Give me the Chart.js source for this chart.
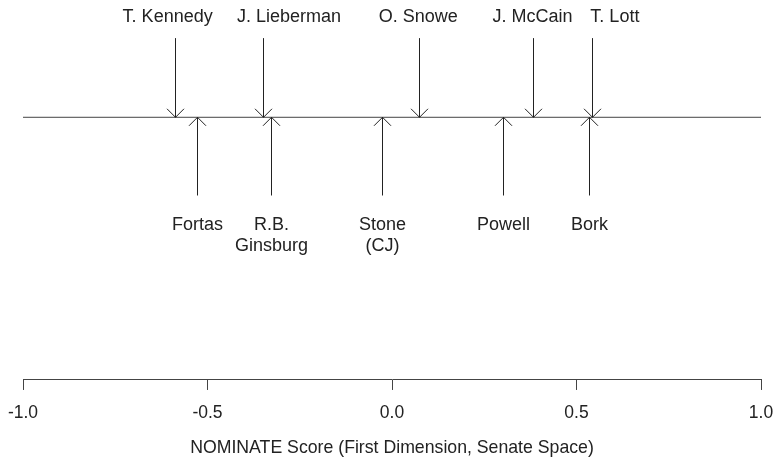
<!DOCTYPE html>
<html>
<head>
<meta charset="utf-8">
<script src="https://cdn.jsdelivr.net/npm/chart.js@4"></script>
<style>
  html, body { margin: 0; padding: 0; background: #fff; }
  #wrap { width: 778px; height: 461px; }
</style>
</head>
<body>
<div id="wrap"><canvas id="chart" width="778" height="461"></canvas></div>
<script>
// Senators (arrows pointing down onto the line)
const senatorNames = ['T. Kennedy', 'J. Lieberman', 'O. Snowe', 'J. McCain', 'T. Lott'];
const senatorScores = [-0.588, -0.350, 0.073, 0.382, 0.542];
// where each senator's label is centred (nudged apart so they don't collide)
const senatorLabelAt = [-0.608, -0.279, 0.071, 0.381, 0.604];

// Justices (arrows pointing up onto the line)
const justiceNames = ['Fortas', 'R.B.\nGinsburg', 'Stone\n(CJ)', 'Powell', 'Bork'];
const justiceScores = [-0.528, -0.328, -0.027, 0.301, 0.534];

// Axis ticks
const tickValues = [-1.0, -0.5, 0.0, 0.5, 1.0];
const axisTitle = 'NOMINATE Score (First Dimension, Senate Space)';

// vertical layout levels, in % of plot height (y scale runs 0..100 top to bottom)
const LINE_Y = 30.87;
const SENATE_TOP = 10.03;
const JUSTICE_BOTTOM = 51.45;

const INK = '#222';
const LINE_COLOR = '#444';
const FONT = '"Liberation Sans", Arial, Helvetica, sans-serif';

// Draw arrows and their labels using the chart scales
const arrowPlugin = {
    id: 'arrows',
    afterDatasetsDraw(chart) {
        const ctx = chart.ctx;
        const xs = chart.scales.x;
        const ys = chart.scales.y;
        const lineY = ys.getPixelForValue(LINE_Y);
        const head = 8.5;

        ctx.save();
        ctx.strokeStyle = INK;
        ctx.lineWidth = 1;
        ctx.fillStyle = INK;
        ctx.font = '18px ' + FONT;
        ctx.textAlign = 'center';
        ctx.textBaseline = 'middle';

        // senators: from top down to the line
        const topY = ys.getPixelForValue(SENATE_TOP);
        senatorScores.forEach((v, i) => {
            const x = Math.round(xs.getPixelForValue(v)) + 0.5;
            ctx.beginPath();
            ctx.moveTo(x, topY);
            ctx.lineTo(x, lineY);
            ctx.moveTo(x - head, lineY - head);
            ctx.lineTo(x, lineY);
            ctx.lineTo(x + head, lineY - head);
            ctx.stroke();
            ctx.fillText(senatorNames[i], xs.getPixelForValue(senatorLabelAt[i]), topY - 21);
        });

        // justices: from below up to the line
        const botY = ys.getPixelForValue(JUSTICE_BOTTOM);
        justiceScores.forEach((v, i) => {
            const x = Math.round(xs.getPixelForValue(v)) + 0.5;
            ctx.beginPath();
            ctx.moveTo(x, botY);
            ctx.lineTo(x, lineY);
            ctx.moveTo(x - head, lineY + head);
            ctx.lineTo(x, lineY);
            ctx.lineTo(x + head, lineY + head);
            ctx.stroke();
            justiceNames[i].split('\n').forEach((line, j) => {
                ctx.fillText(line, x, botY + 29.5 + j * 21);
            });
        });
        ctx.restore();
    }
};

new Chart(document.getElementById('chart'), {
    type: 'line',
    data: {
        datasets: [{
            // the horizontal policy line
            data: [{ x: tickValues[0], y: LINE_Y }, { x: tickValues[tickValues.length - 1], y: LINE_Y }],
            borderColor: LINE_COLOR,
            borderWidth: 1,
            pointRadius: 0,
            fill: false
        }]
    },
    options: {
        responsive: false,
        animation: false,
        events: [],
        layout: {
            padding: { left: 23, right: 17, top: 0, bottom: 2.4 }
        },
        plugins: {
            legend: { display: false },
            tooltip: { enabled: false },
            title: { display: false }
        },
        scales: {
            x: {
                type: 'linear',
                min: tickValues[0],
                max: tickValues[tickValues.length - 1],
                afterBuildTicks: (scale) => {
                    scale.ticks = tickValues.map(v => ({ value: v }));
                },
                afterFit: (scale) => {
                    // keep the plot edges where the layout padding puts them
                    scale.paddingLeft = 0;
                    scale.paddingRight = 0;
                },
                ticks: {
                    callback: (v) => Number(v).toFixed(1),
                    color: INK,
                    font: { family: FONT, size: 17.5 },
                    padding: 13,
                    maxRotation: 0
                },
                grid: {
                    drawOnChartArea: false,
                    drawTicks: true,
                    tickLength: 10,
                    color: LINE_COLOR
                },
                border: { display: true, color: LINE_COLOR, width: 1 },
                title: {
                    display: true,
                    text: axisTitle,
                    color: INK,
                    font: { family: FONT, size: 17.7 },
                    padding: { top: 0.4, bottom: 0 }
                }
            },
            y: {
                type: 'linear',
                display: false,
                min: 0,
                max: 100,
                reverse: true
            }
        }
    },
    plugins: [arrowPlugin]
});
</script>
</body>
</html>
